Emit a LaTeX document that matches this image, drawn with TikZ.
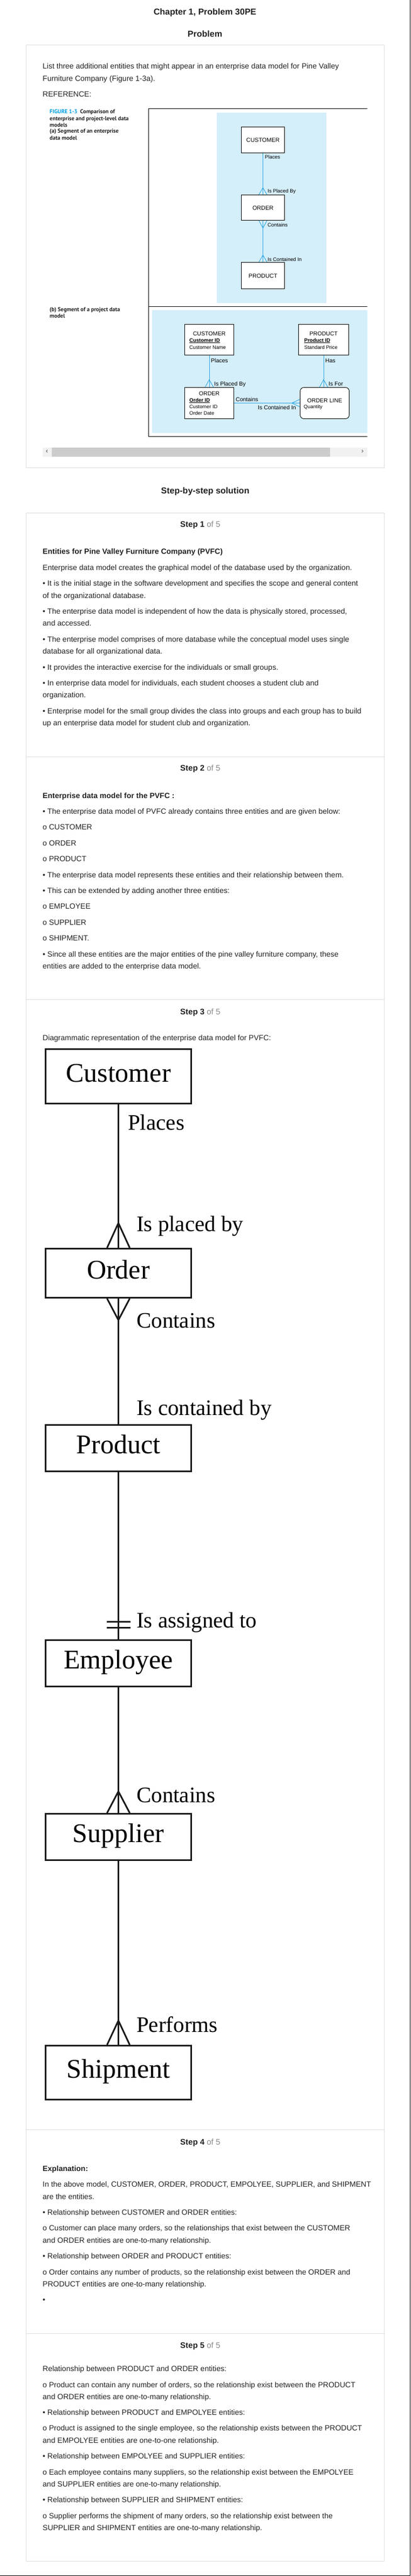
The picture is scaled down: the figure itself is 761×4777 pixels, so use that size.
\documentclass[tikz,border=0pt]{standalone}
\usepackage{fontspec}
\setmainfont{Liberation Sans}
\newfontfamily\erfont{Liberation Serif}
\newfontfamily\capfont{PT Sans}
\usetikzlibrary{positioning}

\definecolor{txtc}{RGB}{34,34,34}
\definecolor{cardgray}{RGB}{221,221,221}
\definecolor{panelblue}{RGB}{212,238,250}
\definecolor{linkblue}{RGB}{41,163,225}
\definecolor{figblue}{RGB}{0,158,227}
\definecolor{stepgray}{RGB}{136,136,136}
\definecolor{barbg}{RGB}{241,241,241}
\definecolor{barthumb}{RGB}{204,204,204}

\newcommand{\fs}[1]{\fontsize{#1}{#1}\selectfont}

\tikzset{
    txt/.style={anchor=base west, inner sep=0pt, font=\fs{14}, text=txtc},
    btxt/.style={txt, font=\fs{14}\bfseries},
    headline/.style={anchor=base, inner sep=0pt, font=\fs{16}\bfseries, text=txtc},
    stepno/.style={anchor=base west, inner sep=0pt, font=\fs{15}, text=txtc},
    card/.style={draw=cardgray, line width=1pt},
    % figure 1-3
    capline/.style={anchor=base west, inner sep=0pt, font=\capfont\fs{10.5}\bfseries, text=txtc},
    fbox/.style={draw=black, line width=0.9pt, fill=white, inner sep=0pt},
    ftitle/.style={anchor=base, inner sep=0pt, font=\fs{10.6}, text=black},
    fattr/.style={anchor=base west, inner sep=0pt, font=\fs{9.3}, text=black},
    flbl/.style={anchor=base west, inner sep=0pt, font=\fs{9.4}, text=black},
    flink/.style={draw=linkblue, line width=0.9pt},
    % step 3 diagram
    ent/.style={draw=black!90, line width=3pt, minimum width=270pt, inner sep=0pt,
        font=\erfont\fs{50}, text height=34pt, text depth=14pt},
    erline/.style={draw=black!90, line width=3pt},
    erlbl/.style={anchor=base west, inner sep=0pt, font=\erfont\fs{41}, text=black}
}

\begin{document}
\begin{tikzpicture}[x=1pt, y=-1pt]
    \useasboundingbox (0,0) rectangle (761,4777);
    \fill[white] (0,0) rectangle (761,4777);
    \draw[black, line width=1pt] (760.5,0) -- (760.5,4776.5) -- (0,4776.5);

    %Titles
    \node[headline] (title) at (380,28) {Chapter 1, Problem 30PE};
    \node[headline] (prob) at (380,69) {Problem};
    \node[headline] (sol) at (380.5,915) {Step-by-step solution};

    %Cards
    \draw[card] (48.5,84) rectangle (712,867);
    \draw[card] (48.5,951) rectangle (712,4749);
    \foreach \y in {1403,1853,3949,4327}
        \draw[cardgray, line width=1pt] (48.5,\y) -- (712,\y);

    %Problem text
    \node[txt] (q1) at (79,128) {List three additional entities that might appear in an enterprise data model for Pine Valley};
    \node[txt] (q2) at (79,151) {Furniture Company (Figure 1-3a).};
    \node[txt] (q3) at (79,180) {REFERENCE:};

    %Figure 1-3 captions
    \node[capline] (cap1) at (92,211) {\textcolor{figblue}{FIGURE 1-3}\hspace{5pt}Comparison of};
    \node[capline] (cap2) at (92,223) {enterprise and project-level data};
    \node[capline] (cap3) at (92,235) {models};
    \node[capline] (cap4) at (92,247) {(a) Segment of an enterprise};
    \node[capline] (cap5) at (92,259) {data model};
    \node[capline] (cap6) at (92,577) {(b) Segment of a project data};
    \node[capline] (cap7) at (92,589) {model};

    %Figure frame and panels
    \fill[panelblue] (402,209) rectangle (605,562);
    \fill[panelblue] (282,575) rectangle (681,803);
    \draw[black, line width=1pt] (681,202) -- (275,202) -- (275,809) -- (681,809);
    \draw[black, line width=1pt] (275,568) -- (681,568);

    %Panel (a)
    \node[fbox, minimum width=80pt, minimum height=48pt] (ca) at (487.5,259.5) {};
    \node[fbox, minimum width=80pt, minimum height=47pt] (oa) at (487.5,385) {};
    \node[fbox, minimum width=80pt, minimum height=49pt] (pa) at (487.5,511) {};
    \node[ftitle, font=\fs{10.8}] (cat) at (487.5,263) {CUSTOMER};
    \node[ftitle, font=\fs{10.8}] (oat) at (487.5,389) {ORDER};
    \node[ftitle, font=\fs{10.8}] (pat) at (487.5,515) {PRODUCT};
    \draw[flink] (ca) -- (oa);
    \draw[flink] (oa) -- (pa);
    \draw[flink] (oa.north) ++(-7.5,0) -- ++(7.5,-13) -- ++(7.5,13);
    \draw[flink] (oa.south) ++(-7.5,0) -- ++(7.5,14) -- ++(7.5,-14);
    \draw[flink] (pa.north) ++(-7.5,0) -- ++(7.5,-13) -- ++(7.5,13);
    \node[flbl] (la1) at (491,294) {Places};
    \node[flbl] (la2) at (496,357) {Is Placed By};
    \node[flbl] (la3) at (496,420) {Contains};
    \node[flbl] (la4) at (496,484) {Is Contained In};

    %Panel (b)
    \node[fbox, minimum width=91pt, minimum height=57pt] (cb) at (388,630) {};
    \node[fbox, minimum width=93pt, minimum height=57pt] (pb) at (600,630) {};
    \node[fbox, minimum width=91pt, minimum height=58pt] (ob) at (388,747.5) {};
    \node[fbox, rounded corners=7pt, minimum width=91pt, minimum height=58pt] (olb) at (602,747.5) {};
    \node[ftitle] (cbt) at (388,622) {CUSTOMER};
    \node[fattr, font=\fs{9.5}\bfseries] (cb1) at (351,634) {\underline{Customer ID}};
    \node[fattr] (cb2) at (351,647) {Customer Name};
    \node[ftitle] (pbt) at (600,622) {PRODUCT};
    \node[fattr, font=\fs{9.5}\bfseries] (pb1) at (564,634) {\underline{Product ID}};
    \node[fattr] (pb2) at (564,647) {Standard Price};
    \node[ftitle] (obt) at (388,733) {ORDER};
    \node[fattr, font=\fs{9.5}\bfseries] (ob1) at (351,745) {\underline{Order ID}};
    \node[fattr] (ob2) at (351,757) {Customer ID};
    \node[fattr] (ob3) at (351,769) {Order Date};
    \node[ftitle] (olbt) at (602,746) {ORDER LINE};
    \node[fattr] (olb1) at (563,757) {Quantity};
    \draw[flink] (cb) -- (ob);
    \draw[flink] (pb.south) -- (pb.south |- olb.north);
    \draw[flink] (ob) -- (olb);
    \draw[flink] (ob.north) ++(-7.8,0) -- ++(7.8,-14) -- ++(7.8,14);
    \draw[flink] (pb.south |- olb.north) ++(-7.8,0) -- ++(7.8,-14) -- ++(7.8,14);
    \draw[flink] (olb.west) ++(0,-7) -- ++(-15,7) -- ++(15,7);
    \node[flbl, font=\fs{10.5}] (lb1) at (391,672) {Places};
    \node[flbl, font=\fs{10.5}] (lb2) at (397,715) {Is Placed By};
    \node[flbl, font=\fs{10.5}] (lb3) at (603,672) {Has};
    \node[flbl, font=\fs{10.5}] (lb4) at (609,715) {Is For};
    \node[flbl, font=\fs{10.5}] (lb5) at (437,744) {Contains};
    \node[flbl, font=\fs{10.5}] (lb6) at (478,759) {Is Contained In};

    %Scroll bar
    \fill[barbg] (79,830) rectangle (681,847);
    \fill[barthumb] (96,830) rectangle (612,847);
    \node[font=\fs{13}, text=black!70, inner sep=0pt] (lft) at (87,838) {‹};
    \node[font=\fs{13}, text=black!70, inner sep=0pt] (rgt) at (672,838) {›};

    %Step 1
    \node[stepno] (st1) at (334,977) {\textbf{Step 1} \textcolor{stepgray}{of 5}};
    \node[btxt] (h1) at (79,1027) {Entities for Pine Valley Furniture Company (PVFC)};
    \foreach \y/\t [count=\i] in {
        1057/Enterprise data model creates the graphical model of the database used by the organization.,
        1086/• It is the initial stage in the software development and specifies the scope and general content,
        1109/of the organizational database.,
        1138/{• The enterprise data model is independent of how the data is physically stored, processed,},
        1160/and accessed.,
        1190/• The enterprise model comprises of more database while the conceptual model uses single,
        1212/database for all organizational data.,
        1242/• It provides the interactive exercise for the individuals or small groups.,
        1271/{• In enterprise data model for individuals, each student chooses a student club and},
        1293/organization.,
        1323/• Enterprise model for the small group divides the class into groups and each group has to build,
        1345/up an enterprise data model for student club and organization.}
        \node[txt] (sa\i) at (79,\y) {\t};

    %Step 2
    \node[stepno] (st2) at (334,1429) {\textbf{Step 2} \textcolor{stepgray}{of 5}};
    \node[btxt] (h2) at (79,1480) {Enterprise data model for the PVFC :};
    \foreach \y/\t [count=\i] in {
        1509/• The enterprise data model of PVFC already contains three entities and are given below:,
        1538/o CUSTOMER,
        1568/o ORDER,
        1597/o PRODUCT,
        1627/• The enterprise data model represents these entities and their relationship between them.,
        1656/• This can be extended by adding another three entities:,
        1685/o EMPLOYEE,
        1715/o SUPPLIER,
        1744/o SHIPMENT.,
        1774/{• Since all these entities are the major entities of the pine valley furniture company, these},
        1796/entities are added to the enterprise data model.}
        \node[txt] (sb\i) at (79,\y) {\t};

    %Step 3
    \node[stepno] (st3) at (334,1881) {\textbf{Step 3} \textcolor{stepgray}{of 5}};
    \node[txt] (d0) at (79,1929) {Diagrammatic representation of the enterprise data model for PVFC:};

    \node[ent, minimum height=101pt] (cus) at (219.5,1996) {Customer};
    \node[ent, minimum height=91pt] (ord) at (219.5,2361) {Order};
    \node[ent, minimum height=86pt] (prd) at (219.5,2685.5) {Product};
    \node[ent, minimum height=86pt] (emp) at (219.5,3084.5) {Employee};
    \node[ent, minimum height=86pt] (sup) at (219.5,3406.5) {Supplier};
    \node[ent, minimum height=100pt] (shp) at (219.5,3843.5) {Shipment};

    \draw[erline] (cus) -- (ord);
    \draw[erline] (ord) -- (prd);
    \draw[erline] (prd) -- (emp);
    \draw[erline] (emp) -- (sup);
    \draw[erline] (sup) -- (shp);
    \draw[erline] (ord.north) ++(-21,0) -- ++(21,-46) -- ++(21,46);
    \draw[erline] (ord.south) ++(-21,0) -- ++(21,40) -- ++(21,-40);
    \draw[erline] (emp.north) ++(-22,-22) -- ++(44,0);
    \draw[erline] (emp.north) ++(-22,-33) -- ++(44,0);
    \draw[erline] (sup.north) ++(-21,0) -- ++(21,-40) -- ++(21,40);
    \draw[erline] (shp.north) ++(-21,0) -- ++(21,-45) -- ++(21,45);

    \node[erlbl] (r1) at (237,2095) {Places};
    \node[erlbl] (r2) at (253,2283) {Is placed by};
    \node[erlbl] (r3) at (253,2462) {Contains};
    \node[erlbl] (r4) at (253,2624) {Is contained by};
    \node[erlbl] (r5) at (253,3018) {Is assigned to};
    \node[erlbl] (r6) at (253,3342) {Contains};
    \node[erlbl] (r7) at (253,3768) {Performs};

    %Step 4
    \node[stepno] (st4) at (334,3977) {\textbf{Step 4} \textcolor{stepgray}{of 5}};
    \node[btxt] (h4) at (79,4026) {Explanation:};
    \foreach \y/\t [count=\i] in {
        4055/{In the above model, CUSTOMER, ORDER, PRODUCT, EMPOLYEE, SUPPLIER, and SHIPMENT},
        4078/are the entities.,
        4107/• Relationship between CUSTOMER and ORDER entities:,
        4136/{o Customer can place many orders, so the relationships that exist between the CUSTOMER},
        4159/and ORDER entities are one-to-many relationship.,
        4188/• Relationship between ORDER and PRODUCT entities:,
        4218/{o Order contains any number of products, so the relationship exist between the ORDER and},
        4240/PRODUCT entities are one-to-many relationship.,
        4269/•}
        \node[txt] (sd\i) at (79,\y) {\t};

    %Step 5
    \node[stepno] (st5) at (334,4354) {\textbf{Step 5} \textcolor{stepgray}{of 5}};
    \foreach \y/\t [count=\i] in {
        4397/Relationship between PRODUCT and ORDER entities:,
        4427/{o Product can contain any number of orders, so the relationship exist between the PRODUCT},
        4449/and ORDER entities are one-to-many relationship.,
        4478/• Relationship between PRODUCT and EMPOLYEE entities:,
        4507/{o Product is assigned to the single employee, so the relationship exists between the PRODUCT},
        4530/and EMPOLYEE entities are one-to-one relationship.,
        4559/• Relationship between EMPOLYEE and SUPPLIER entities:,
        4589/{o Each employee contains many suppliers, so the relationship exist between the EMPOLYEE},
        4611/and SUPPLIER entities are one-to-many relationship.,
        4640/• Relationship between SUPPLIER and SHIPMENT entities:,
        4670/{o Supplier performs the shipment of many orders, so the relationship exist between the},
        4692/SUPPLIER and SHIPMENT entities are one-to-many relationship.}
        \node[txt] (se\i) at (79,\y) {\t};
\end{tikzpicture}
\end{document}
